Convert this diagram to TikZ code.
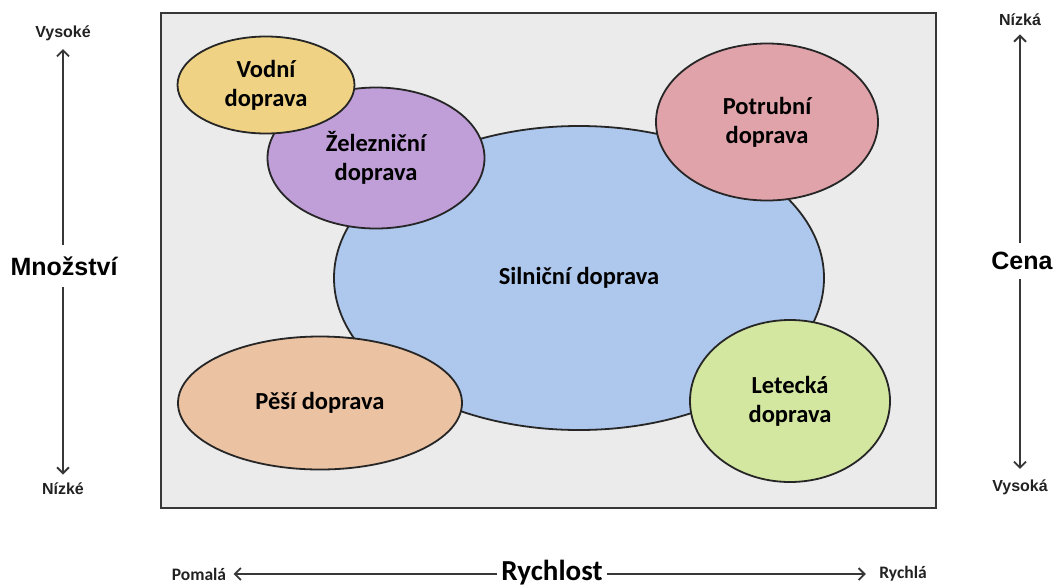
\documentclass[tikz,border=0pt]{standalone}
\usepackage{fontspec}
\setmainfont{Carlito}
\newfontfamily\arialfont{Liberation Sans}
\usepackage{tikz}
\usetikzlibrary{arrows.meta, positioning, shapes.geometric}
\usepackage{xcolor}
\definecolor{framegray}{RGB}{235,235,235}
\definecolor{roadblue}{RGB}{174,199,236}
\definecolor{watergold}{RGB}{239,210,131}
\definecolor{railviolet}{RGB}{192,159,216}
\definecolor{piperose}{RGB}{225,163,170}
\definecolor{walkpeach}{RGB}{235,194,162}
\definecolor{airlime}{RGB}{211,231,160}
\definecolor{inkgray}{RGB}{55,55,55}

\begin{document}
\begin{tikzpicture}[x=1pt, y=-1pt,
  mode/.style={ellipse, draw=black!85, line width=1.8pt, inner sep=0pt,
    align=center, font=\fontsize{24.5}{29}\selectfont\bfseries},
  axisarrow/.style={-{Straight Barb[length=6pt,width=12pt]}, inkgray, line width=1.8pt},
  endlabel/.style={font=\arialfont\fontsize{16}{18}\selectfont\bfseries, inkgray!60!black},
  axislabel/.style={font=\arialfont\fontsize{25}{28}\selectfont\bfseries},
  speedlabel/.style={font=\fontsize{17.5}{20}\selectfont\bfseries, inkgray!60!black}]
  \useasboundingbox (0,0) rectangle (1057,587);
  % background frame
  \draw[fill=framegray, draw=inkgray, line width=1.6pt] (161,13) rectangle (936,508);
  % transport modes
  \node[mode, fill=roadblue, minimum width=490, minimum height=304] (road) at (579,278) {Silniční doprava};
  \node[mode, fill=piperose, minimum width=222, minimum height=157] (pipe) at (767,122) {Potrubní\\doprava};
  \node[mode, fill=walkpeach, minimum width=284, minimum height=133] (walk) at (320,403) {Pěší doprava};
  \node[mode, fill=airlime, minimum width=200, minimum height=162] (air) at (790,401) {Letecká\\doprava};
  \node[mode, fill=railviolet, minimum width=217, minimum height=141] (rail) at (376,158) {Železniční\\doprava};
  \node[mode, fill=watergold, minimum width=177, minimum height=97] (water) at (266,85) {Vodní\\doprava};
  % left axis
  \node[axislabel] (qty) at (64,266) {Množství};
  \node[endlabel] (qtyhigh) at (63,33) {Vysoké};
  \node[endlabel] (qtylow) at (63,489) {Nízké};
  \draw[axisarrow, shorten <=8pt, shorten >=5pt] (qty.north -| qtyhigh) -- (qtyhigh);
  \draw[axisarrow, shorten <=8pt, shorten >=5pt] (qty.south -| qtylow) -- (qtylow);
  % right axis
  \node[axislabel] (price) at (1022,261) {Cena};
  \node[endlabel] (pricelow) at (1020,20) {Nízká};
  \node[endlabel] (pricehigh) at (1020,487) {Vysoká};
  \draw[axisarrow, shorten <=6pt, shorten >=5pt] (price.north -| pricelow) -- (pricelow);
  \draw[axisarrow, shorten <=6pt, shorten >=7pt] (price.south -| pricehigh) -- (pricehigh);
  % bottom axis
  \node[font=\fontsize{29}{31}\selectfont\bfseries] (speed) at (552,573) {Rychlost};
  \node[speedlabel] (slow) at (199,574) {Pomalá};
  \node[speedlabel] (fast) at (903,574) {Rychlá};
  \draw[axisarrow, shorten <=1pt, shorten >=4pt] (speed.west |- slow) -- (slow);
  \draw[axisarrow, shorten <=1pt, shorten >=10pt] (speed.east |- fast) -- (fast);
\end{tikzpicture}
\end{document}
